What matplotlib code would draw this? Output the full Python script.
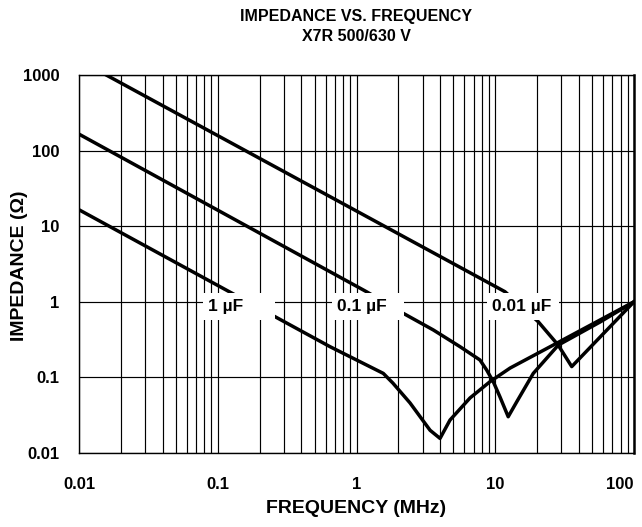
"""Impedance vs. frequency for X7R 500/630 V capacitors, redrawn as out.png."""
import matplotlib
matplotlib.use("Agg")
import matplotlib.pyplot as plt
import matplotlib.transforms as mtransforms
from matplotlib.patches import Rectangle
from matplotlib.ticker import FixedLocator, LogLocator, NullFormatter

plt.rcParams["font.family"] = ["Liberation Sans", "DejaVu Sans"]
plt.rcParams["font.weight"] = "bold"

# ---- values (MHz, ohm) ----
freq_1uF = [0.01, 0.644, 1.56, 1.83, 2.43, 3.39, 4.0, 4.72, 6.58, 9.16, 12.8, 27.7, 100]
z_1uF = [16.5, 0.255, 0.113, 0.084, 0.046, 0.020, 0.0156, 0.0273, 0.0535, 0.0877, 0.133, 0.283, 1.0]

freq_100nF = [0.01, 1.18, 2.17, 3.58, 5.57, 7.76, 8.68, 9.68, 10.8, 12.4, 14.3, 18.8, 28.5, 56.9, 100]
z_100nF = [165, 1.36, 0.705, 0.424, 0.255, 0.170, 0.125, 0.0877, 0.0556, 0.0302, 0.0477, 0.113, 0.268, 0.54, 1.0]

freq_10nF = [0.0157, 11.75, 20.4, 28.4, 35.6, 100]
z_10nF = [1000, 1.36, 0.546, 0.268, 0.139, 1.0]

curve_labels = ["1 µF", "0.1 µF", "0.01 µF"]
x_ticks = [0.01, 0.1, 1, 10, 100]
x_ticklabels = ["0.01", "0.1", "1", "10", "100"]
y_ticks = [0.01, 0.1, 1, 10, 100, 1000]
y_ticklabels = ["0.01", "0.1", "1", "10", "100", "1000"]

fig = plt.figure(figsize=(6.42, 5.27), dpi=100)
ax = fig.add_axes([0.1231, 0.1404, 0.8644, 0.7173])
ax.set_xscale("log"); ax.set_yscale("log")
ax.set_xlim(0.01, 100); ax.set_ylim(0.01, 1000)

# grid: every minor line in x, decades only in y
ax.xaxis.set_major_locator(FixedLocator(x_ticks))
ax.xaxis.set_minor_locator(LogLocator(base=10, subs=range(2, 10)))
ax.xaxis.set_minor_formatter(NullFormatter())
ax.yaxis.set_major_locator(FixedLocator(y_ticks))
ax.yaxis.set_minor_locator(FixedLocator([]))
ax.grid(True, which="major", axis="both", color="black", lw=0.85, zorder=1)
ax.grid(True, which="minor", axis="x", color="black", lw=0.85, zorder=1)
ax.set_axisbelow(True)

ax.set_xticklabels(x_ticklabels, fontsize=12, fontweight="bold")
ax.set_yticklabels(y_ticklabels, fontsize=12, fontweight="bold")
ax.tick_params(axis="x", which="both", length=0, pad=17)
ax.tick_params(axis="y", which="both", length=0, pad=14)
# last x label sits a bit left in the original so it stays inside the page
last = ax.get_xticklabels()[-1]
last.set_transform(last.get_transform() + mtransforms.ScaledTranslation(-10 / 72, 0, fig.dpi_scale_trans))
for s in ax.spines.values():
    s.set_linewidth(1.0)
ax.spines["right"].set_linewidth(1.8)

for f, z in [(freq_1uF, z_1uF), (freq_100nF, z_100nF), (freq_10nF, z_10nF)]:
    ax.plot(f, z, color="black", lw=2.5, solid_joinstyle="round", zorder=3)

# white label boxes that cut the grid and the curves
box_x = [0.2234, 0.4559, 0.7351]
for bx, lab in zip(box_x, curve_labels):
    ax.add_patch(Rectangle((bx, 0.3519), 0.1297, 0.0714, transform=ax.transAxes,
                           facecolor="white", edgecolor="none", zorder=4, clip_on=False))
    ax.text(bx + 0.009, 0.3876, lab, transform=ax.transAxes, fontsize=12.5,
            fontweight="bold", ha="left", va="center", zorder=5)

fig.text(0.5553, 0.968, "IMPEDANCE VS. FREQUENCY", ha="center", va="center",
         fontsize=11.5, fontweight="bold")
fig.text(0.5553, 0.930, "X7R 500/630 V", ha="center", va="center",
         fontsize=11.5, fontweight="bold")
fig.text(0.5553, 0.036, "FREQUENCY (MHz)", ha="center", va="center",
         fontsize=14, fontweight="bold")
fig.text(0.031, 0.495, "IMPEDANCE (Ω)", ha="center", va="center", rotation=90,
         fontsize=14, fontweight="bold")

fig.savefig("out.png", dpi=100)
